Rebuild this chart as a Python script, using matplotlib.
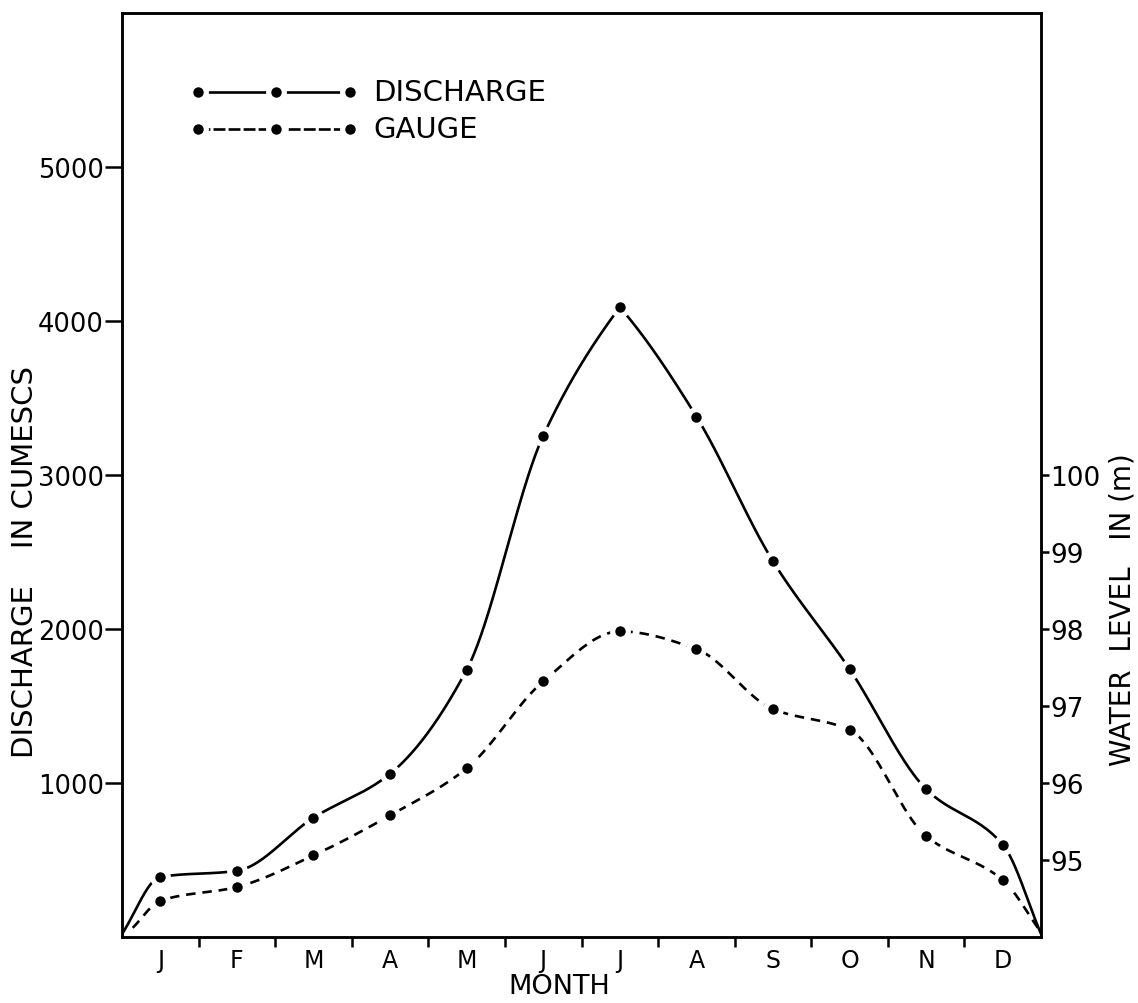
"""
Monthly discharge and gauge (water level) hydrograph, redrawn from a scanned figure.
"""

import numpy as np
import matplotlib
matplotlib.use('Agg')
import matplotlib.pyplot as plt

MONTHS = ['J', 'F', 'M', 'A', 'M', 'J', 'J', 'A', 'S', 'O', 'N', 'D']

# discharge in cumecs (left axis), read at the middle of each month
DISCHARGE = [390, 430, 775, 1060, 1735, 3255, 4090, 3380, 2440, 1740, 960, 600]
# water level in m (right axis)
GAUGE = [94.47, 94.65, 95.06, 95.58, 96.19, 97.32, 97.97, 97.74, 96.96, 96.69, 95.31, 94.74]

# both curves start and end in the bottom corners of the frame
DISCHARGE_START, DISCHARGE_END = 20, 20
GAUGE_START, GAUGE_END = 94.12, 94.06

LEFT_TICKS = [1000, 2000, 3000, 4000, 5000]
RIGHT_TICKS = [95, 96, 97, 98, 99, 100]

FONT = 'DejaVu Sans'
LW = 1.9
DASH = (3.6, 2.6)


def pchip(x, y, xs, sharp_peaks=False):
    """Shape preserving cubic, only used to draw a smooth pen line through the points.
    With sharp_peaks the pen makes a corner at a local maximum instead of rounding it."""
    x = np.asarray(x, float)
    y = np.asarray(y, float)
    h = np.diff(x)
    d = np.diff(y) / h
    ml = np.zeros_like(y)  # slope arriving at point
    mr = np.zeros_like(y)  # slope leaving point
    ml[0] = mr[0] = d[0]
    ml[-1] = mr[-1] = d[-1]
    for k in range(1, len(x) - 1):
        if d[k - 1] * d[k] > 0:
            w1 = 2 * h[k] + h[k - 1]
            w2 = h[k] + 2 * h[k - 1]
            ml[k] = mr[k] = (w1 + w2) / (w1 / d[k - 1] + w2 / d[k])
        elif sharp_peaks and d[k - 1] > 0 > d[k]:
            ml[k] = 0.8 * d[k - 1]
            mr[k] = 0.8 * d[k]
    idx = np.clip(np.searchsorted(x, xs) - 1, 0, len(x) - 2)
    t = (xs - x[idx]) / h[idx]
    h00 = 2 * t**3 - 3 * t**2 + 1
    h10 = t**3 - 2 * t**2 + t
    h01 = -2 * t**3 + 3 * t**2
    h11 = t**3 - t**2
    return h00 * y[idx] + h10 * h[idx] * mr[idx] + h01 * y[idx + 1] + h11 * h[idx] * ml[idx + 1]


def dots(ax, x, y, **kw):
    # white halo cuts the pen line around each dot, as in the drawing
    ax.plot(x, y, 'o', color='white', ms=15, mew=0, zorder=4, **kw)
    ax.plot(x, y, 'o', color='black', ms=7.5, mew=0, zorder=5, **kw)


def main():
    fig = plt.figure(figsize=(11.38, 10.04), dpi=100)
    ax = fig.add_axes([0.1072, 0.0657, 0.8076, 0.9203])
    ax2 = ax.twinx()

    n = len(MONTHS)
    xm = np.arange(n) + 0.5

    # curve through corner -> monthly points -> corner
    xd = np.concatenate([[0], xm, [n]])
    yd = np.concatenate([[DISCHARGE_START], DISCHARGE, [DISCHARGE_END]])
    xg = np.concatenate([[0.14], xm, [n]])
    yg = np.concatenate([[GAUGE_START], GAUGE, [GAUGE_END]])
    xsd = np.linspace(0, n, 800)
    xsg = np.linspace(0.14, n, 800)

    ax.plot(xsd, pchip(xd, yd, xsd, sharp_peaks=True), color='black', lw=LW,
            solid_capstyle='round', zorder=3)
    dots(ax, xm, DISCHARGE)

    ax2.plot(xsg, pchip(xg, yg, xsg), color='black', lw=LW, dashes=DASH, zorder=3)
    dots(ax2, xm, GAUGE)

    ax.set_xlim(0, n)
    ax.set_ylim(0, 6000)
    ax2.set_ylim(94, 106)

    # month letters centred, tick marks between months
    ax.set_xticks(np.arange(1, n))
    ax.set_xticklabels([])
    ax.set_xticks(xm, minor=True)
    ax.set_xticklabels(MONTHS, minor=True, fontsize=17, fontfamily=FONT)
    ax.tick_params(axis='x', which='major', direction='out', length=7, width=1.8)
    ax.tick_params(axis='x', which='minor', length=0, pad=8)

    ax.set_yticks(LEFT_TICKS)
    ax.set_yticklabels([str(v) for v in LEFT_TICKS], fontsize=18.5, fontfamily=FONT)
    ax.tick_params(axis='y', direction='out', length=12, width=1.8, pad=1)

    ax2.set_yticks(RIGHT_TICKS)
    ax2.set_yticklabels([str(v) for v in RIGHT_TICKS], fontsize=19, fontfamily=FONT)
    ax2.tick_params(axis='y', direction='out', length=6, width=1.8, pad=0.5)

    for a in (ax, ax2):
        for s in a.spines.values():
            s.set_linewidth(1.8)

    # hand-made legend: dot - line - dot - line - dot
    lx = [0.0827, 0.1676, 0.248]
    for yy, dashed, label in [(0.9145, False, 'DISCHARGE'), (0.8745, True, 'GAUGE')]:
        kw = dict(color='black', lw=LW, transform=ax.transAxes, clip_on=False, zorder=3)
        if dashed:
            kw['dashes'] = (4.5, 1.2)
        ax.plot(lx, [yy] * 3, **kw)
        dots(ax, lx, [yy] * 3, transform=ax.transAxes, clip_on=False)
        ax.text(0.273, yy, label, transform=ax.transAxes, ha='left', va='center',
                fontsize=21, fontfamily=FONT)

    fig.text(559 / 1138, 1 - 987 / 1004, 'MONTH', ha='center', va='center',
             fontsize=19.5, fontfamily=FONT)
    fig.text(25 / 1138, 1 - 562 / 1004, 'DISCHARGE    IN CUMESCS', rotation=90,
             ha='center', va='center', fontsize=21, fontfamily=FONT)
    fig.text(1122 / 1138, 1 - 610 / 1004, 'WATER  LEVEL   IN (m)', rotation=90,
             ha='center', va='center', fontsize=20, fontfamily=FONT)

    fig.savefig('out.png', dpi=100)
    plt.close(fig)


if __name__ == '__main__':
    main()
